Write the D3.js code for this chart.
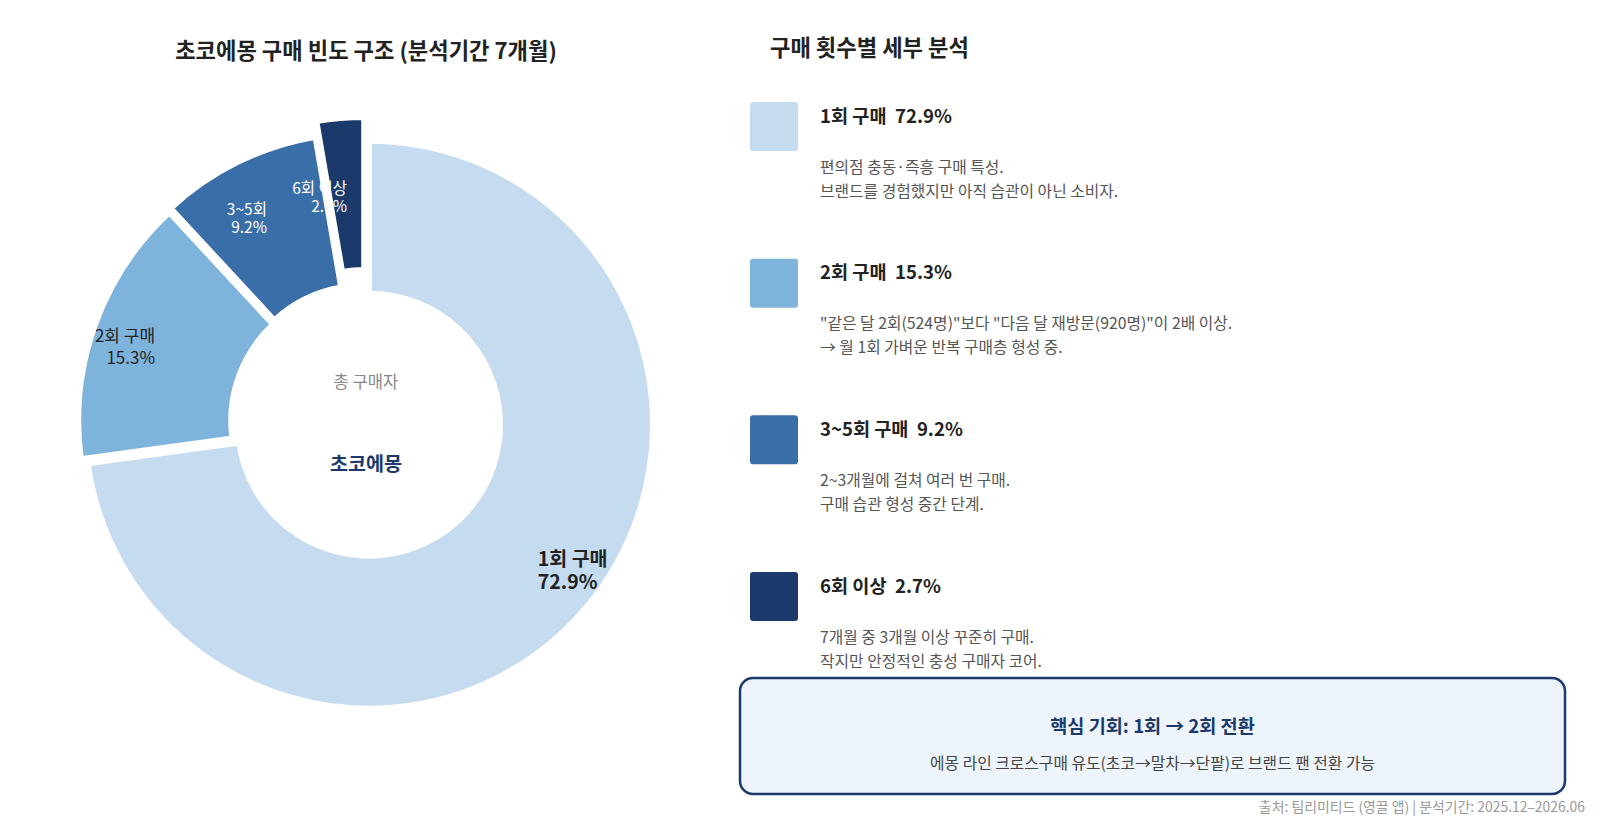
<!DOCTYPE html>
<html>
<head>
<meta charset="utf-8">
<script src="https://cdn.jsdelivr.net/npm/d3@7"></script>
<style>
  body { margin: 0; background: #fff; }
  text { font-family: "Noto Sans CJK KR", "Noto Sans", sans-serif; }
</style>
</head>
<body>
<script>
// data
var categories = ["1회 구매", "2회 구매", "3~5회 구매", "6회 이상"];
var sliceLabels = ["1회 구매", "2회 구매", "3~5회", "6회 이상"];
var shares = [72.9, 15.3, 9.2, 2.7];
var notes = [
  ["편의점 충동·즉흥 구매 특성.", "브랜드를 경험했지만 아직 습관이 아닌 소비자."],
  ["\"같은 달 2회(524명)\"보다 \"다음 달 재방문(920명)\"이 2배 이상.", "→ 월 1회 가벼운 반복 구매층 형성 중."],
  ["2~3개월에 걸쳐 여러 번 구매.", "구매 습관 형성 중간 단계."],
  ["7개월 중 3개월 이상 꾸준히 구매.", "작지만 안정적인 충성 구매자 코어."]
];
var centerLabels = ["총 구매자", "초코에몽"];
var insightTitle = "핵심 기회: 1회 → 2회 전환";
var insightText = "에몽 라인 크로스구매 유도(초코→말차→단팥)로 브랜드 팬 전환 가능";
var sourceText = "출처: 팀리미티드 (영끌 앱) | 분석기간: 2025.12–2026.06";

// styles
var colors = ["#C5DCF0", "#7EB3DC", "#3A6EA8", "#1B3A6B"];
var pull = [4, 4, 6, 21];
var labelSize = [19.5, 17, 15.5, 15.5];
var labelGap = [23.5, 21.5, 18, 18];
var labelShift = [3, -1, -4, -3];
var navy = "#1B3A6B";

var W = 1600, H = 829;
var cx = 366, cy = 422;
var outerR = 284, innerR = 131, labelR = 224;

var svg = d3.select("body").append("svg")
  .attr("width", W)
  .attr("height", H);

// left title
svg.append("text")
  .attr("x", cx)
  .attr("y", 49)
  .attr("text-anchor", "middle")
  .attr("dominant-baseline", "central")
  .attr("font-size", 22.2)
  .attr("font-weight", "bold")
  .attr("fill", "#222")
  .text("초코에몽 구매 빈도 구조 (분석기간 7개월)");

// donut
var pie = d3.pie().sort(null).value(function(d){ return d; });
var arcs = pie(shares);
var arc = d3.arc().innerRadius(innerR).outerRadius(outerR);

var g = svg.append("g").attr("transform", "translate(" + cx + "," + cy + ")");

g.selectAll("path")
  .data(arcs)
  .enter()
  .append("path")
  .attr("d", arc)
  .attr("fill", function(d, i){ return colors[i]; })
  .attr("stroke", "#fff")
  .attr("stroke-width", 6)
  .attr("transform", function(d, i){
    var a = (d.startAngle + d.endAngle) / 2;
    return "translate(" + (pull[i] * Math.sin(a)) + "," + (-pull[i] * Math.cos(a)) + ")";
  });

// slice labels
arcs.forEach(function(d, i){
  var a = (d.startAngle + d.endAngle) / 2;
  var x = labelR * Math.sin(a) + (i == 0 ? labelShift[i] : 0);
  var y = -labelR * Math.cos(a) + (i == 0 ? 0 : labelShift[i]);
  var lh = labelGap[i];
  var t = g.append("text")
    .attr("text-anchor", x > 0 ? "start" : "end")
    .attr("font-size", labelSize[i])
    .attr("font-weight", i == 0 ? "bold" : "normal")
    .attr("fill", i >= 2 ? "#fff" : "#222");
  t.append("tspan").attr("x", x).attr("y", y - lh / 2)
    .attr("dominant-baseline", "central").text(sliceLabels[i]);
  t.append("tspan").attr("x", x).attr("y", y + lh / 2)
    .attr("dominant-baseline", "central").text(d.data.toFixed(1) + "%");
});

// center text
g.append("text")
  .attr("y", -41)
  .attr("text-anchor", "middle")
  .attr("dominant-baseline", "central")
  .attr("font-size", 16.6)
  .attr("fill", "#888")
  .text(centerLabels[0]);

g.append("text")
  .attr("y", 40)
  .attr("text-anchor", "middle")
  .attr("dominant-baseline", "central")
  .attr("font-size", 19.6)
  .attr("font-weight", "bold")
  .attr("fill", navy)
  .text(centerLabels[1]);

// right panel
svg.append("text")
  .attr("x", 770)
  .attr("y", 46)
  .attr("dominant-baseline", "central")
  .attr("font-size", 22.2)
  .attr("font-weight", "bold")
  .attr("fill", "#222")
  .text("구매 횟수별 세부 분석");

var rowY = d3.scaleLinear().domain([0, 3]).range([102, 572]);

var rows = svg.selectAll("g.row")
  .data(categories)
  .enter()
  .append("g")
  .attr("class", "row")
  .attr("transform", function(d, i){ return "translate(750," + rowY(i) + ")"; });

rows.append("rect")
  .attr("width", 48)
  .attr("height", 49)
  .attr("rx", 3)
  .attr("fill", function(d, i){ return colors[i]; });

rows.append("text")
  .attr("x", 70)
  .attr("y", 12)
  .attr("dominant-baseline", "central")
  .attr("font-size", 18.6)
  .attr("font-weight", "bold")
  .attr("fill", "#222")
  .style("white-space", "pre")
  .text(function(d, i){ return d + "  " + shares[i].toFixed(1) + "%"; });

rows.each(function(d, i){
  var r = d3.select(this);
  notes[i].forEach(function(line, j){
    r.append("text")
      .attr("x", 70)
      .attr("y", 64 + j * 24)
      .attr("dominant-baseline", "central")
      .attr("font-size", 15.8)
      .attr("fill", "#555")
      .text(line);
  });
});

// insight box
var box = {x: 740, y: 678, w: 825, h: 116};
svg.append("rect")
  .attr("x", box.x)
  .attr("y", box.y)
  .attr("width", box.w)
  .attr("height", box.h)
  .attr("rx", 13)
  .attr("fill", "#EEF4FB")
  .attr("stroke", navy)
  .attr("stroke-width", 2.5);

svg.append("text")
  .attr("x", box.x + box.w / 2)
  .attr("y", 724)
  .attr("text-anchor", "middle")
  .attr("dominant-baseline", "central")
  .attr("font-size", 18.6)
  .attr("font-weight", "bold")
  .attr("fill", navy)
  .text(insightTitle);

svg.append("text")
  .attr("x", box.x + box.w / 2)
  .attr("y", 762)
  .attr("text-anchor", "middle")
  .attr("dominant-baseline", "central")
  .attr("font-size", 15.8)
  .attr("fill", "#444")
  .text(insightText);

// source
svg.append("text")
  .attr("x", 1585)
  .attr("y", 806)
  .attr("text-anchor", "end")
  .attr("dominant-baseline", "central")
  .attr("font-size", 13.9)
  .attr("fill", "#999")
  .text(sourceText);
</script>
</body>
</html>
